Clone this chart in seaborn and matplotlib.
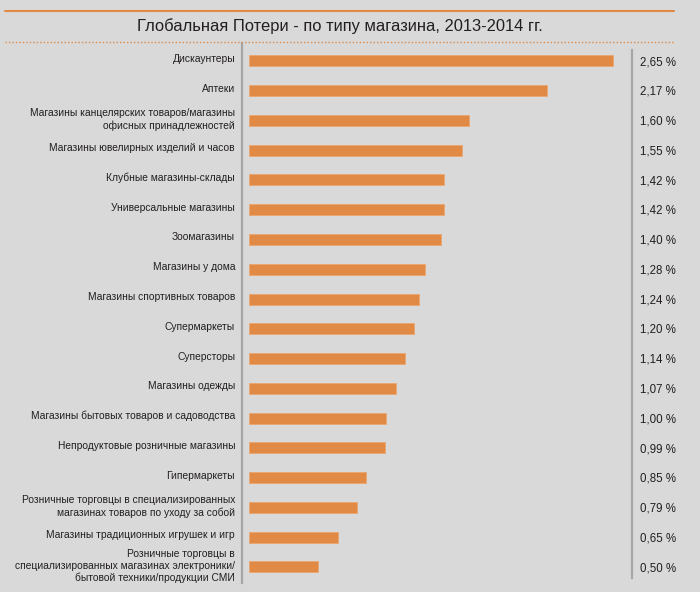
import pandas as pd
import numpy as np
import matplotlib.pyplot as plt
import matplotlib.transforms as mtransforms
from matplotlib.lines import Line2D
import seaborn as sns

# data
stores = [
    'Дискаунтеры',
    'Аптеки',
    'Магазины канцелярских товаров/магазины\nофисных принадлежностей',
    'Магазины ювелирных изделий и часов',
    'Клубные магазины-склады',
    'Универсальные магазины',
    'Зоомагазины',
    'Магазины у дома',
    'Магазины спортивных товаров',
    'Супермаркеты',
    'Суперсторы',
    'Магазины одежды',
    'Магазины бытовых товаров и садоводства',
    'Непродуктовые розничные магазины',
    'Гипермаркеты',
    'Розничные торговцы в специализированных\nмагазинах товаров по уходу за собой',
    'Магазины традиционных игрушек и игр',
    'Розничные торговцы в\nспециализированных магазинах электроники/\nбытовой техники/продукции СМИ',
]
losses = [2.65, 2.17, 1.60, 1.55, 1.42, 1.42, 1.40, 1.28, 1.24,
          1.20, 1.14, 1.07, 1.00, 0.99, 0.85, 0.79, 0.65, 0.50]

title = 'Глобальная Потери - по типу магазина, 2013-2014 гг.'

bg = '#d9d9d9'
orange = '#e08a45'
txt = '#231f20'
grey = '#a6a6a6'

sns.set_style('white')
plt.rcParams['font.family'] = ['Liberation Sans', 'DejaVu Sans']

df = pd.DataFrame({'store': stores, 'loss': losses})

fig = plt.figure(figsize=(7, 5.92), dpi=100, facecolor=bg)
ax = fig.add_axes([242 / 700, 1 - 583 / 592, 390 / 700, 540 / 592])
ax.set_facecolor(bg)

sns.barplot(data=df, y='store', x='loss', orient='h', color=orange,
            saturation=1, width=0.37, edgecolor='#eca66e', linewidth=0.6, ax=ax)

ax.set_xlim(-0.051, 2.79)
ax.set_ylim(17.54, -0.6)
ax.set_xticks([])
ax.set_xlabel('')
ax.set_ylabel('')

for s in ['top', 'bottom']:
    ax.spines[s].set_visible(False)
for s in ['left', 'right']:
    ax.spines[s].set_color(grey)
    ax.spines[s].set_linewidth(1.6)
ax.spines['right'].set_bounds(-0.37, 17.37)

ax.tick_params(axis='y', length=0, pad=5, labelsize=7.4, labelcolor=txt)
shift = mtransforms.ScaledTranslation(0, 0.03, fig.dpi_scale_trans)
for lbl in ax.get_yticklabels():
    lbl.set_linespacing(1.25)
    lbl.set_transform(lbl.get_transform() + shift)

# value labels to the right of the right spine
for i, v in enumerate(losses):
    ax.text(1.021, i + 0.04, f'{v:.2f} %'.replace('.', ','),
            transform=ax.get_yaxis_transform(), ha='left', va='center',
            fontsize=8.3, color=txt)

# title and the two orange rules
fig.text(340 / 700, 1 - 26 / 592, title, ha='center', va='center',
         fontsize=11.9, color=txt)
fig.add_artist(Line2D([5 / 700, 674 / 700], [1 - 11 / 592, 1 - 11 / 592],
                      color=orange, lw=1.5, transform=fig.transFigure))
fig.add_artist(Line2D([5 / 700, 674 / 700], [1 - 42 / 592, 1 - 42 / 592],
                      color=orange, lw=1, ls=(0, (1, 1.5)), transform=fig.transFigure))

fig.savefig('out.png', dpi=100, facecolor=bg)
